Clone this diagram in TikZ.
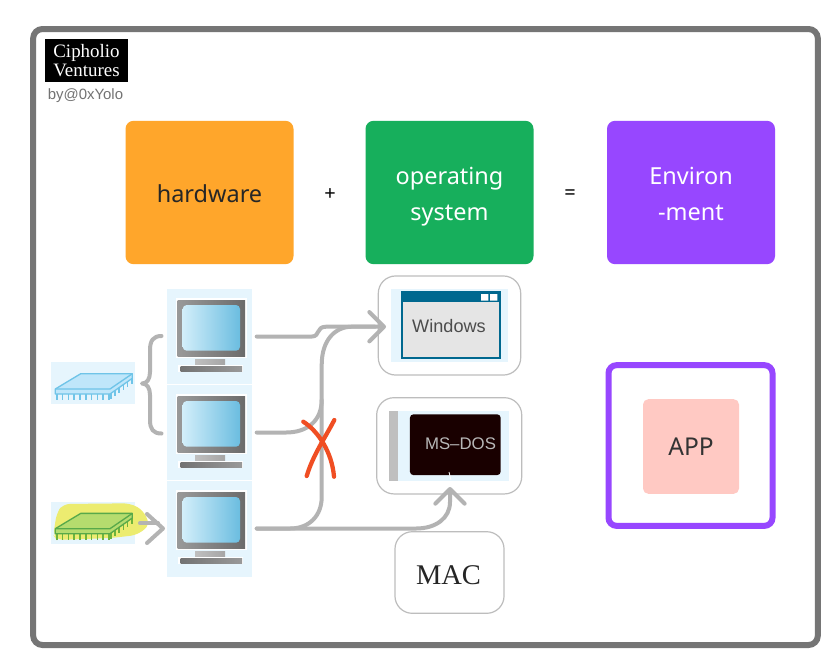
\documentclass[tikz,border=0pt]{standalone}
\usepackage{fontspec}
\setmainfont{Noto Sans}
\newfontfamily\serifx{Liberation Serif}
\newfontfamily\arialx{Liberation Sans}
\usetikzlibrary{arrows.meta}
\definecolor{framegray}{HTML}{757575}
\definecolor{wire}{HTML}{B3B3B3}
\definecolor{tileblue}{HTML}{E6F5FD}
\definecolor{cardline}{HTML}{BDBDBD}
\definecolor{orangeb}{HTML}{FFA62B}
\definecolor{greenb}{HTML}{17AF5C}
\definecolor{purpleb}{HTML}{9747FF}
\definecolor{pinkb}{HTML}{FFC9C3}
\definecolor{redx}{HTML}{F04E23}
\definecolor{tealw}{HTML}{00688F}
\definecolor{scrL}{HTML}{D2EEFA}
\definecolor{scrR}{HTML}{6BBDE0}
\definecolor{blobc}{HTML}{ECEC70}
\definecolor{chipbf}{HTML}{BFE6FA}
\definecolor{chipbl}{HTML}{6FC4E8}
\definecolor{chipgf}{HTML}{B5DC6E}
\definecolor{chipgl}{HTML}{58A94A}
\definecolor{chipgp}{HTML}{6EB43C}
\tikzset{
  x=0.75pt,y=-0.75pt,
  bigbox/.style={rounded corners=6pt,inner sep=0,minimum width=126pt,minimum height=107.5pt,align=center,font=\fontsize{17.6}{27}\selectfont},
  pctile/.style={fill=tileblue,inner sep=0,minimum width=63.4pt,minimum height=72pt},
  chiptile/.style={fill=tileblue,inner sep=0,minimum width=63.2pt,minimum height=31.5pt},
  card/.style={draw=cardline,line width=0.9pt,fill=white,rounded corners=13pt,inner sep=0},
  wireline/.style={draw=wire,line width=3pt,line cap=round,line join=round},
  barb/.style={-{Straight Barb[length=11pt,width=22pt,round]}},
  redstroke/.style={draw=redx,line width=3.2pt,line cap=round},
}
\newcommand{\pcicon}[2]{%
\begin{scope}[shift={(#1,#2)}]
  \fill[white] (8.7,9.5) rectangle (79.7,69.5);
  \fill[white] (11,76) rectangle (76,83.5);
  \path[left color=black!40,right color=black!58] (10.7,12.2) rectangle (78,68.2);
  \path[left color=scrL,right color=scrR,rounded corners=3pt] (15.7,16.5) rectangle (73,62.2);
  \path[left color=black!25,right color=black!35] (28,70.8) rectangle (58,75.5);
  \path[left color=black!55,right color=black!40] (13.7,78.2) rectangle (75,82.5);
\end{scope}}
\newcommand{\chipicon}[5]{%
\begin{scope}[shift={(#1,#2)}]
  \foreach \k in {0,...,9} \draw[#5,line width=1.2pt] (6+\k*5.8,30) -- ++(0,7.5);
  \foreach \k in {0,...,5} \draw[#5,line width=1.2pt] (60+\k*4.2,30-\k*3) -- ++(0,6.5);
  \fill[#3,draw=#4,line width=1pt,line join=round] (4.6,26.7) -- (30,11.4) -- (81.6,11.4) -- (81.6,16) -- (59.3,31.7) -- (4.6,31.7) -- cycle;
  \draw[#4,line width=1pt,line join=round] (4.6,26.7) -- (59.3,26.7) -- (81.6,11.4);
\end{scope}}
\begin{document}
\begin{tikzpicture}
\useasboundingbox (0,0) rectangle (837,661);
\node[draw=framegray,line width=4.5pt,fill=white,rounded corners=7pt,inner sep=0,minimum width=588.5pt,minimum height=462pt] (frame) at (425.5,337) {};
% logo
\node[fill=black,text=white,inner sep=0,minimum width=62.5pt,minimum height=32.5pt,align=center,font=\serifx\fontsize{14.2}{14.2}\selectfont] (logo) at (86.5,60.5) {Cipholio\\Ventures};
\node[text=black!55,inner sep=0,font=\arialx\fontsize{11.2}{13}\selectfont] (by) at (85.5,96) {by@0xYolo};
% top row
\node[bigbox,fill=orangeb,text=black!85] (hw) at (209.5,192.5) {\rule{0pt}{15pt}hardware};
\node[inner sep=0,font=\bfseries\fontsize{15}{17}\selectfont] (plus) at (330,195) {+};
\node[bigbox,fill=greenb,text=white] (os) at (449.5,192.5) {\rule{0pt}{19pt}operating\\system};
\node[inner sep=0,font=\bfseries\fontsize{15}{17}\selectfont] (eq) at (570,195) {=};
\node[bigbox,fill=purpleb,text=white] (env) at (691,192.5) {\rule{0pt}{14.5pt}Environ\\-ment};
% computers
\node[pctile] (pc1) at (209.5,336.5) {};
\node[pctile] (pc2) at (209.5,432.5) {};
\node[pctile] (pc3) at (209.5,528.5) {};
\draw[white,line width=0.5pt] (pc1.south west) -- (pc1.south east) (pc2.south west) -- (pc2.south east);
\pcicon{167}{288.5}
\pcicon{167}{384.5}
\pcicon{167}{480.5}
% chips
\node[chiptile] (chip1) at (92.8,383.3) {};
\node[chiptile] (chip2) at (92.8,523) {};
\fill[blobc,rounded corners=5pt] (53.3,535) -- (56.7,513) -- (63,504) -- (130,503.3) -- (143,510) -- (150,525) -- (137,535) -- (120,537) -- (110,538) -- (56.7,540) -- cycle;
\chipicon{50.7}{362.3}{chipbf}{chipbl}{chipbl}
\chipicon{50.7}{502}{chipgf}{chipgl}{chipgp}
% brace
\coordinate (bracetop) at (161.5,336);
\coordinate (bracebot) at (161.5,433.5);
\coordinate (bracetip) at (142,383.5);
\draw[wireline] (bracetop) .. controls (153,336) and (150,341) .. (150,350) -- (150,372) .. controls (150,379) and (147,383.5) .. (bracetip) .. controls (147,383.5) and (150,388) .. (150,395) -- (150,420) .. controls (150,429) and (153,433.5) .. (bracebot);
% small arrow
\coordinate (chipout) at (140,523.3);
\coordinate (pcin) at (163,528.5);
\draw[wireline] (chipout) -- (158,523.3);
\draw[wireline] (147,514) -- (pcin) -- (147,543);
% cards
\node[card,minimum width=106.8pt,minimum height=74.3pt] (wincard) at (449.5,325.5) {};
\node[fill=tileblue,inner sep=0,minimum width=88pt,minimum height=54.7pt] (wintile) at (449.7,325.8) {};
\node[draw=tealw,line width=1.5pt,fill=black!10,inner sep=0,minimum width=73.5pt,minimum height=49pt] (winwin) at (450.5,325) {};
\fill[tealw] (winwin.north west) rectangle (500.5,302.3);
\fill[white] (481,294) rectangle (488.3,300.7) (490,294) rectangle (497.3,300.7);
\node[text=black!70,inner sep=0,font=\arialx\fontsize{13.6}{15}\selectfont] (wintxt) at (449,326) {Windows};
\node[card,minimum width=108.8pt,minimum height=72.2pt] (doscard) at (449.2,445.8) {};
\node[fill=tileblue,inner sep=0,minimum width=90pt,minimum height=52.5pt] (dostile) at (449.3,445.7) {};
\fill[black!25] (389.3,410.7) rectangle (398.3,480.7);
\node[fill=black!90!red,rounded corners=2.5pt,inner sep=0,minimum width=68pt,minimum height=45.5pt] (dosbox) at (455.3,444.7) {};
\node[text=black!28,inner sep=0,font=\arialx\fontsize{12.6}{15}\selectfont] (dostxt) at (460.5,443.3) {MS–DOS};
\node[card,minimum width=81.8pt,minimum height=61.2pt] (maccard) at (449.5,572.5) {};
\node[text=black!85,inner sep=0,font=\serifx\fontsize{21.4}{24}\selectfont] (mactxt) at (448.5,575.5) {MAC};
% connectors
\coordinate (wintip) at (386,326.7);
\coordinate (dostip) at (450,487);
\draw[wireline,barb] ([xshift=3.5pt]pc1.east) -- (312,336.5) .. controls (320,336.5) and (316,326.7) .. (326,326.7) -- (wintip);
\draw[wireline] ([xshift=3.5pt]pc2.east) -- (286,432.5) .. controls (308,432.5) and (321.7,420) .. (321.7,400) -- (321.7,365) .. controls (321.7,340) and (335,326.7) .. (352,326.7) -- (375,326.7);
\draw[wireline] ([xshift=3.5pt]pc3.east) -- (290,528.5) .. controls (310,528.5) and (321.7,515) .. (321.7,497) -- (321.7,400);
\draw[wireline,barb] ([xshift=3.5pt]pc3.east) -- (416,528.5) .. controls (436,528.5) and (450,518) .. (450,502) -- (dostip);
% red X
\draw[redstroke] (303.3,421.7) .. controls (318,431) and (332,452) .. (334,476.7);
\draw[redstroke] (334.3,420) .. controls (325,438) and (313,455) .. (306.7,476);
% artefact
\draw[white,line width=0.6pt] (449,472) -- (451,480);
% app
\node[draw=purpleb,line width=4.5pt,fill=white,rounded corners=6pt,inner sep=0,minimum width=123pt,minimum height=120.5pt] (appframe) at (690.5,445.5) {};
\node[fill=pinkb,rounded corners=4pt,inner sep=0,minimum width=72pt,minimum height=71pt,text=black!80,font=\fontsize{18.4}{20}\selectfont] (app) at (691,446.5) {APP};
\end{tikzpicture}
\end{document}
